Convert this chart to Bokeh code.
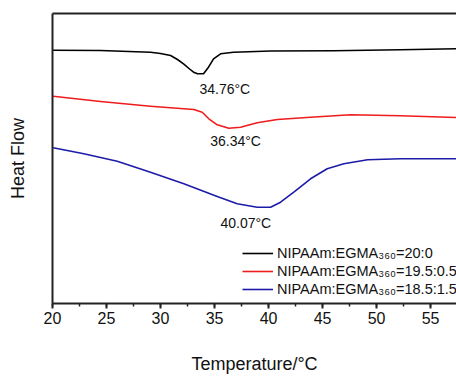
from bokeh.plotting import figure
from bokeh.models import (Range1d, LinearAxis, SingleIntervalTicker, FixedTicker,
                          Label, Legend, LegendItem)
from bokeh.embed import file_html
from bokeh.resources import INLINE

# ---- data (temperature in °C, heat flow in arbitrary units, endo down) ----
t_black = [20, 24.44, 29.07, 30.0, 30.93, 31.57, 32.13, 32.69, 33.06, 33.43, 33.98,
           34.44, 34.91, 35.56, 36.76, 40.19, 46.0, 52.2, 57.4]
hf_black = [253.3, 253, 251.3, 250, 248, 244, 239.7, 234.5, 231.3, 229.7, 229.7,
            236.3, 244.7, 249.7, 251.3, 252.5, 252.7, 253.7, 254.7]

t_red = [20.06, 24.44, 29.07, 33.08, 33.86, 34.47, 35.25, 36.32, 37.41, 38.95,
         40.81, 43.89, 47.59, 52.2, 57.4]
hf_red = [207.3, 202, 197.3, 194, 191.3, 184.7, 178.7, 175.3, 176.3, 180.7,
          184, 186.3, 188.7, 187.7, 186]

t_blue = [20.06, 22.9, 25.99, 29.07, 32.16, 35.25, 37.1, 38.95, 40.19, 41.11,
          42.34, 43.89, 45.43, 46.97, 49.17, 52.2, 57.4]
hf_blue = [155.7, 149.7, 142.3, 131.3, 119.7, 107, 99.7, 96.3, 96.3, 101.3,
           111.3, 124.7, 134.7, 139.7, 143.7, 144.7, 144.7]

series_labels = ["NIPAAm:EGMA\u2083\u2086\u2080=20:0",
                 "NIPAAm:EGMA\u2083\u2086\u2080=19.5:0.5",
                 "NIPAAm:EGMA\u2083\u2086\u2080=18.5:1.5"]
series_colors = ["#000000", "#ee1c1c", "#1c1ca8"]

peak_texts = ["34.76\u00b0C", "36.34\u00b0C", "40.07\u00b0C"]
peak_x = [35.95, 36.95, 37.9]
peak_y = [215, 163, 81]

FONT = "Liberation Sans"

p = figure(width=456, height=376, output_backend="svg", toolbar_location=None,
           x_range=Range1d(20, 57.4), y_range=Range1d(0, 290),
           x_axis_location=None, y_axis_location=None,
           min_border_left=52, min_border_right=0, min_border_top=13,
           min_border_bottom=73)
p.outline_line_color = None
p.grid.visible = False
p.background_fill_color = "white"
p.border_fill_color = "white"

renderers = []
for t, hf, c in zip([t_black, t_red, t_blue], [hf_black, hf_red, hf_blue], series_colors):
    r = p.line(t, hf, line_color=c, line_width=1.6, line_join="round")
    renderers.append(r)

# bottom axis
xa = LinearAxis(ticker=SingleIntervalTicker(interval=5, num_minor_ticks=2),
                axis_label="Temperature/\u00b0C")
xa.axis_line_width = 2
xa.axis_line_color = "#222222"
xa.major_tick_line_width = 2
xa.major_tick_line_color = "#222222"
xa.minor_tick_line_width = 1.5
xa.minor_tick_line_color = "#222222"
xa.major_tick_in = 0
xa.major_tick_out = 5
xa.minor_tick_in = 0
xa.minor_tick_out = 3
xa.major_label_text_font = FONT
xa.major_label_text_font_size = "16px"
xa.major_label_text_color = "#111111"
xa.major_label_standoff = 3
xa.axis_label_text_font = FONT
xa.axis_label_text_font_size = "18px"
xa.axis_label_text_font_style = "normal"
xa.axis_label_text_color = "#111111"
xa.axis_label_standoff = 27
p.add_layout(xa, "below")

# left axis (no ticks)
ya = LinearAxis(ticker=FixedTicker(ticks=[]), axis_label="Heat Flow")
ya.axis_line_width = 2
ya.axis_line_color = "#222222"
ya.major_tick_in = 0
ya.major_tick_out = 0
ya.minor_tick_in = 0
ya.minor_tick_out = 0
ya.major_label_text_font_size = "0px"
ya.axis_label_text_font = FONT
ya.axis_label_text_font_size = "18px"
ya.axis_label_text_font_style = "normal"
ya.axis_label_text_color = "#111111"
ya.axis_label_standoff = 25
p.add_layout(ya, "left")

# top axis (frame line only)
ta = LinearAxis(ticker=FixedTicker(ticks=[]))
ta.axis_line_width = 2
ta.axis_line_color = "#222222"
ta.major_tick_in = 0
ta.major_tick_out = 0
ta.minor_tick_in = 0
ta.minor_tick_out = 0
ta.major_label_text_font_size = "0px"
p.add_layout(ta, "above")

for txt, x, y in zip(peak_texts, peak_x, peak_y):
    p.add_layout(Label(x=x, y=y, text=txt, text_align="center", text_baseline="middle",
                       text_font=FONT, text_font_size="14px", text_color="#111111"))

legend = Legend(items=[LegendItem(label=l, renderers=[r]) for l, r in zip(series_labels, renderers)],
                location=(190, 5), border_line_color=None, background_fill_alpha=0,
                padding=0, margin=0, spacing=0, glyph_width=31, glyph_height=18,
                label_height=18, label_standoff=4, label_text_font=FONT,
                label_text_font_size="14.5px", label_text_color="#111111")
p.add_layout(legend, "center")

open("out.html", "w").write(file_html(p, INLINE))
